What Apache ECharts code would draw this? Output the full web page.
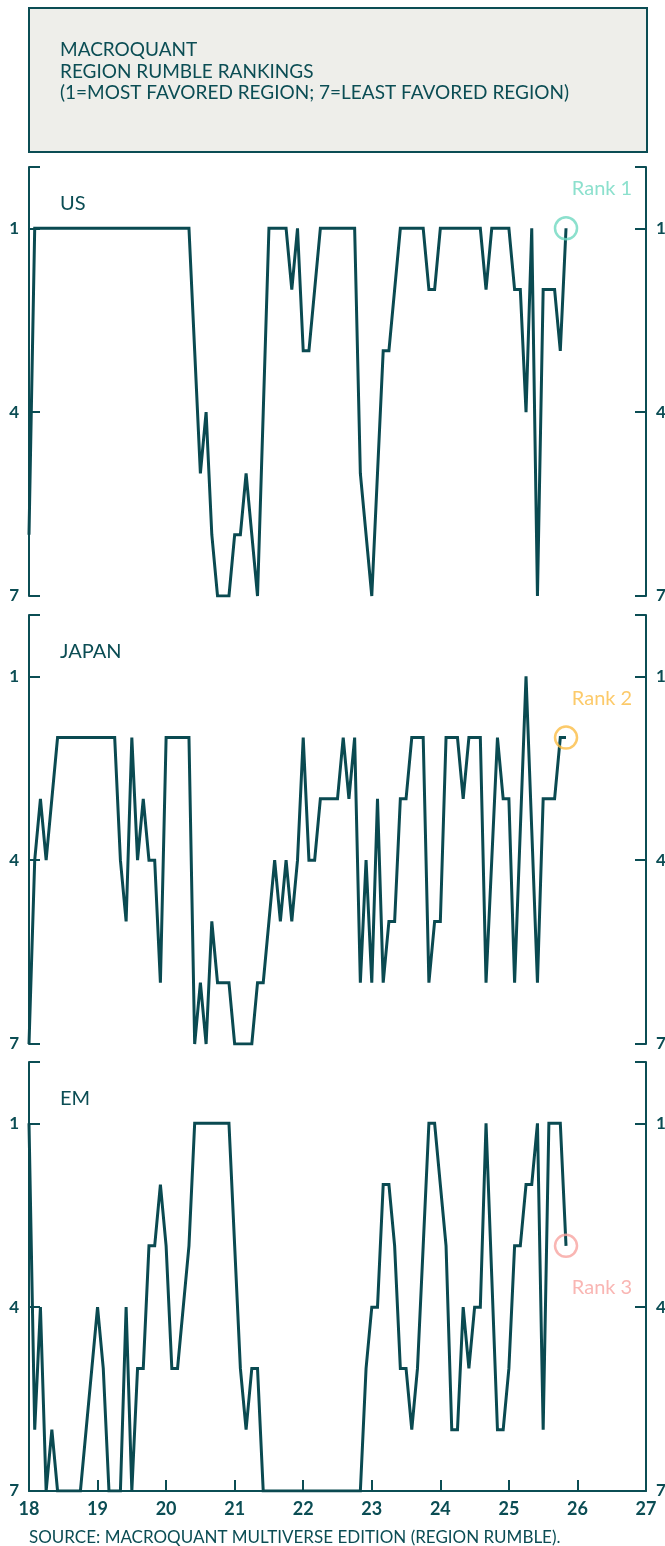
<!DOCTYPE html>
<html>
<head>
<meta charset="utf-8">
<script src="https://cdn.jsdelivr.net/npm/echarts@6/dist/echarts.min.js"></script>
<style>
  html, body { margin: 0; padding: 0; background: #ffffff; }
  #chart { width: 665px; height: 1546px; }
</style>
</head>
<body>
<div id="chart"></div>
<script>
// monthly rankings, Jan 2018 .. Nov 2025 (1 = most favored, 7 = least favored)
var startYear = 18;
var xTicks = [18, 19, 20, 21, 22, 23, 24, 25, 26, 27];
var rankTicks = [1, 4, 7];
var regions = ['US', 'JAPAN', 'EM'];
var rankNames = ['Rank 1', 'Rank 2', 'Rank 3'];

var usRank = [6,
  1,1,1,1,1,1,1,1,1,1, 1,1,1,1,1,1,1,1,1,1, 1,1,1,1,1,1,1,1,
  3,5,4,6,7,7,7,6,6,5,6,7,4,
  1,1,1,1,
  2,1,3,3,2,
  1,1,1,1,1,1,1,
  5,6,7,5,3,3,2,
  1,1,1,1,1,
  2,2,
  1,1,1,1,1,1,1,1,
  2,
  1,1,1,1,
  2,2,4,1,7,2,2,2,3,1];

var japanRank = [7,4,3,4,3,
  2,2,2,2,2,2,2,2,2,2,2,
  4,5,2,4,3,4,4,6,
  2,2,2,2,2,
  7,6,7,5,6,6,6,
  7,7,7,7,
  6,6,5,4,5,4,5,4,2,4,4,
  3,3,3,3,
  2,3,2,6,4,6,3,6,5,5,3,3,
  2,2,2,
  6,5,5,
  2,2,2,
  3,
  2,2,2,
  6,4,2,3,3,6,3.5,1,3.5,6,
  3,3,3,2,2];

var emRank = [1,6,4,7,6,
  7,7,7,7,7,
  6,5,4,5,7,7,7,4,7,5,5,3,3,2,3,5,5,4,3,
  1,1,1,1,1,1,1,
  3,5,6,5,5,
  7,7,7,7,7,7,7,7,7,7,7,7,7,7,7,7,7,7,
  5,4,4,2,2,3,5,5,6,5,3,1,1,2,3,6,6,4,5,4,4,1,3.5,6,6,5,3,3,2,2,1,6,1,1,1,3];

var ink = '#0b4d54';
var lineColor = '#0a4a51';
var markColors = ['#6fd8c0', '#fbbd45', '#f8a4a0'];

function toPoints(arr) {
  return arr.map(function(v, i) { return [startYear + i / 12, v]; });
}

var series = [usRank, japanRank, emRank];
var gridTops = [167, 615, 1062];
var gridH = 429;

var grids = [], xAxes = [], yAxes = [], chartSeries = [], titles = [];

titles.push({
  text: 'MACROQUANT\nREGION RUMBLE RANKINGS\n(1=MOST FAVORED REGION; 7=LEAST FAVORED REGION)',
  left: 60, top: 39, padding: 0,
  textStyle: { color: ink, fontFamily: 'Lato', fontSize: 19, fontWeight: 'normal', lineHeight: 21.7 }
});
titles.push({
  text: 'SOURCE: MACROQUANT MULTIVERSE EDITION (REGION RUMBLE).',
  left: 29, top: 1529, padding: 0,
  textStyle: { color: ink, fontFamily: 'Lato', fontSize: 17, fontWeight: 'normal' }
});

series.forEach(function(data, k) {
  var last = k === series.length - 1;
  grids.push({ left: 29, right: 19, top: gridTops[k], height: gridH, outerBoundsMode: 'none' });
  titles.push({
    text: regions[k], left: 60, top: gridTops[k] + 27, padding: 0,
    textStyle: { color: ink, fontFamily: 'Lato', fontSize: 20, fontWeight: 'normal' }
  });
  xAxes.push({
    type: 'value', gridIndex: k, min: 18, max: 27, interval: 1,
    show: last,
    axisLine: { show: last, onZero: false, lineStyle: { color: ink, width: 2 } },
    axisTick: { show: last, inside: true, length: 11, lineStyle: { color: ink, width: 2 } },
    axisLabel: { show: last, color: ink, fontFamily: 'Lato', fontSize: 18, fontWeight: 'bold', margin: 9,
      customValues: xTicks },
    splitLine: { show: false }
  });
  ['left', 'right'].forEach(function(pos) {
    yAxes.push({
      type: 'value', gridIndex: k, position: pos, min: 0, max: 7, inverse: true,
      axisLine: { show: true, onZero: false, lineStyle: { color: ink, width: 2 } },
      axisTick: { show: true, inside: true, length: 11, lineStyle: { color: ink, width: 2 },
        customValues: [0].concat(rankTicks) },
      axisLabel: { color: ink, fontFamily: 'Lato', fontSize: 17, fontWeight: 'bold', margin: 10,
        customValues: rankTicks },
      splitLine: { show: false }
    });
  });
  chartSeries.push({
    type: 'line', xAxisIndex: k, yAxisIndex: k * 2,
    data: toPoints(data),
    symbol: 'none', smooth: false,
    lineStyle: { color: lineColor, width: 3, join: 'miter' },
    z: 2
  });
  var lastIdx = data.length - 1;
  chartSeries.push({
    type: 'scatter', xAxisIndex: k, yAxisIndex: k * 2,
    data: [[startYear + lastIdx / 12, data[lastIdx]]],
    symbol: 'circle', symbolSize: 22,
    itemStyle: { color: 'rgba(0,0,0,0)', borderColor: markColors[k], borderWidth: 2.5 },
    label: {
      show: true, formatter: rankNames[k], color: markColors[k],
      fontFamily: 'Lato', fontSize: 20,
      position: last ? 'bottom' : 'top',
      offset: last ? [36, 14] : [36, -12]
    },
    z: 3
  });
});

var chart = echarts.init(document.getElementById('chart'), null, { renderer: 'canvas' });
chart.setOption({
  animation: false,
  backgroundColor: '#ffffff',
  title: titles,
  graphic: [{
    type: 'rect', left: 28, top: 7, z: -1,
    shape: { width: 618, height: 144 },
    style: { fill: '#eeeeea', stroke: ink, lineWidth: 2 }
  }],
  grid: grids,
  xAxis: xAxes,
  yAxis: yAxes,
  series: chartSeries
});
window.addEventListener('resize', function() { chart.resize(); });
</script>
</body>
</html>
